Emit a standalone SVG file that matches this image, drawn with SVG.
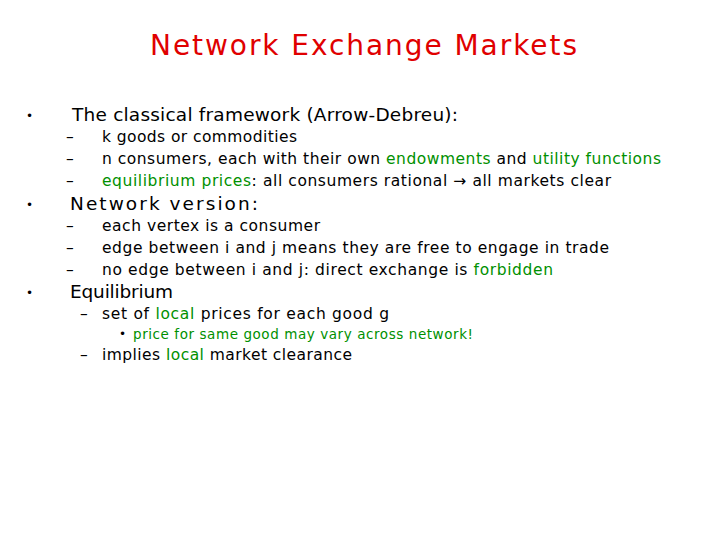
<svg xmlns="http://www.w3.org/2000/svg" width="720" height="540" viewBox="0 0 720 540">
<style>
text{font-family:"DejaVu Sans","Liberation Sans",sans-serif;fill:#000}
.t{fill:#e00000;font-size:28px}
.b{font-size:18.5px}
.s{font-size:15.5px}
.ss{font-size:13.5px}
.d{font-size:12px}
.g{fill:#009000}
</style>
<rect width="720" height="540" fill="#fff"/>
<text class="t" x="150" y="55" textLength="427" lengthAdjust="spacing">Network Exchange Markets</text>
<text class="d" x="26" y="120">•</text><text class="b" x="72" y="121" textLength="386" lengthAdjust="spacing">The classical framework (Arrow-Debreu):</text>
<text class="s" x="66" y="142">–</text><text class="s" x="102" y="142" textLength="195" lengthAdjust="spacing">k goods or commodities</text>
<text class="s" x="66" y="164">–</text><text class="s" x="102" y="164" textLength="559" lengthAdjust="spacing">n consumers, each with their own <tspan class="g">endowments</tspan> and <tspan class="g">utility functions</tspan></text>
<text class="s" x="66" y="186">–</text><text class="s" x="102" y="186" textLength="509" lengthAdjust="spacing"><tspan class="g">equilibrium prices</tspan>: all consumers rational → all markets clear</text>
<text class="d" x="26" y="209">•</text><text class="b" x="70" y="210" textLength="188" lengthAdjust="spacing">Network version:</text>
<text class="s" x="66" y="231">–</text><text class="s" x="102" y="231" textLength="218" lengthAdjust="spacing">each vertex is a consumer</text>
<text class="s" x="66" y="253">–</text><text class="s" x="102" y="253" textLength="507" lengthAdjust="spacing">edge between i and j means they are free to engage in trade</text>
<text class="s" x="66" y="275">–</text><text class="s" x="102" y="275" textLength="451" lengthAdjust="spacing">no edge between i and j: direct exchange is <tspan class="g">forbidden</tspan></text>
<text class="d" x="26" y="297">•</text><text class="b" x="70" y="298" textLength="103" lengthAdjust="spacing">Equilibrium</text>
<text class="s" x="80" y="319">–</text><text class="s" x="102" y="319" textLength="287" lengthAdjust="spacing">set of <tspan class="g">local</tspan> prices for each good g</text>
<text class="d" x="119" y="338">•</text><text class="ss g" x="133" y="339" textLength="340" lengthAdjust="spacing">price for same good may vary across network!</text>
<text class="s" x="80" y="360">–</text><text class="s" x="102" y="360" textLength="250" lengthAdjust="spacing">implies <tspan class="g">local</tspan> market clearance</text>
</svg>
